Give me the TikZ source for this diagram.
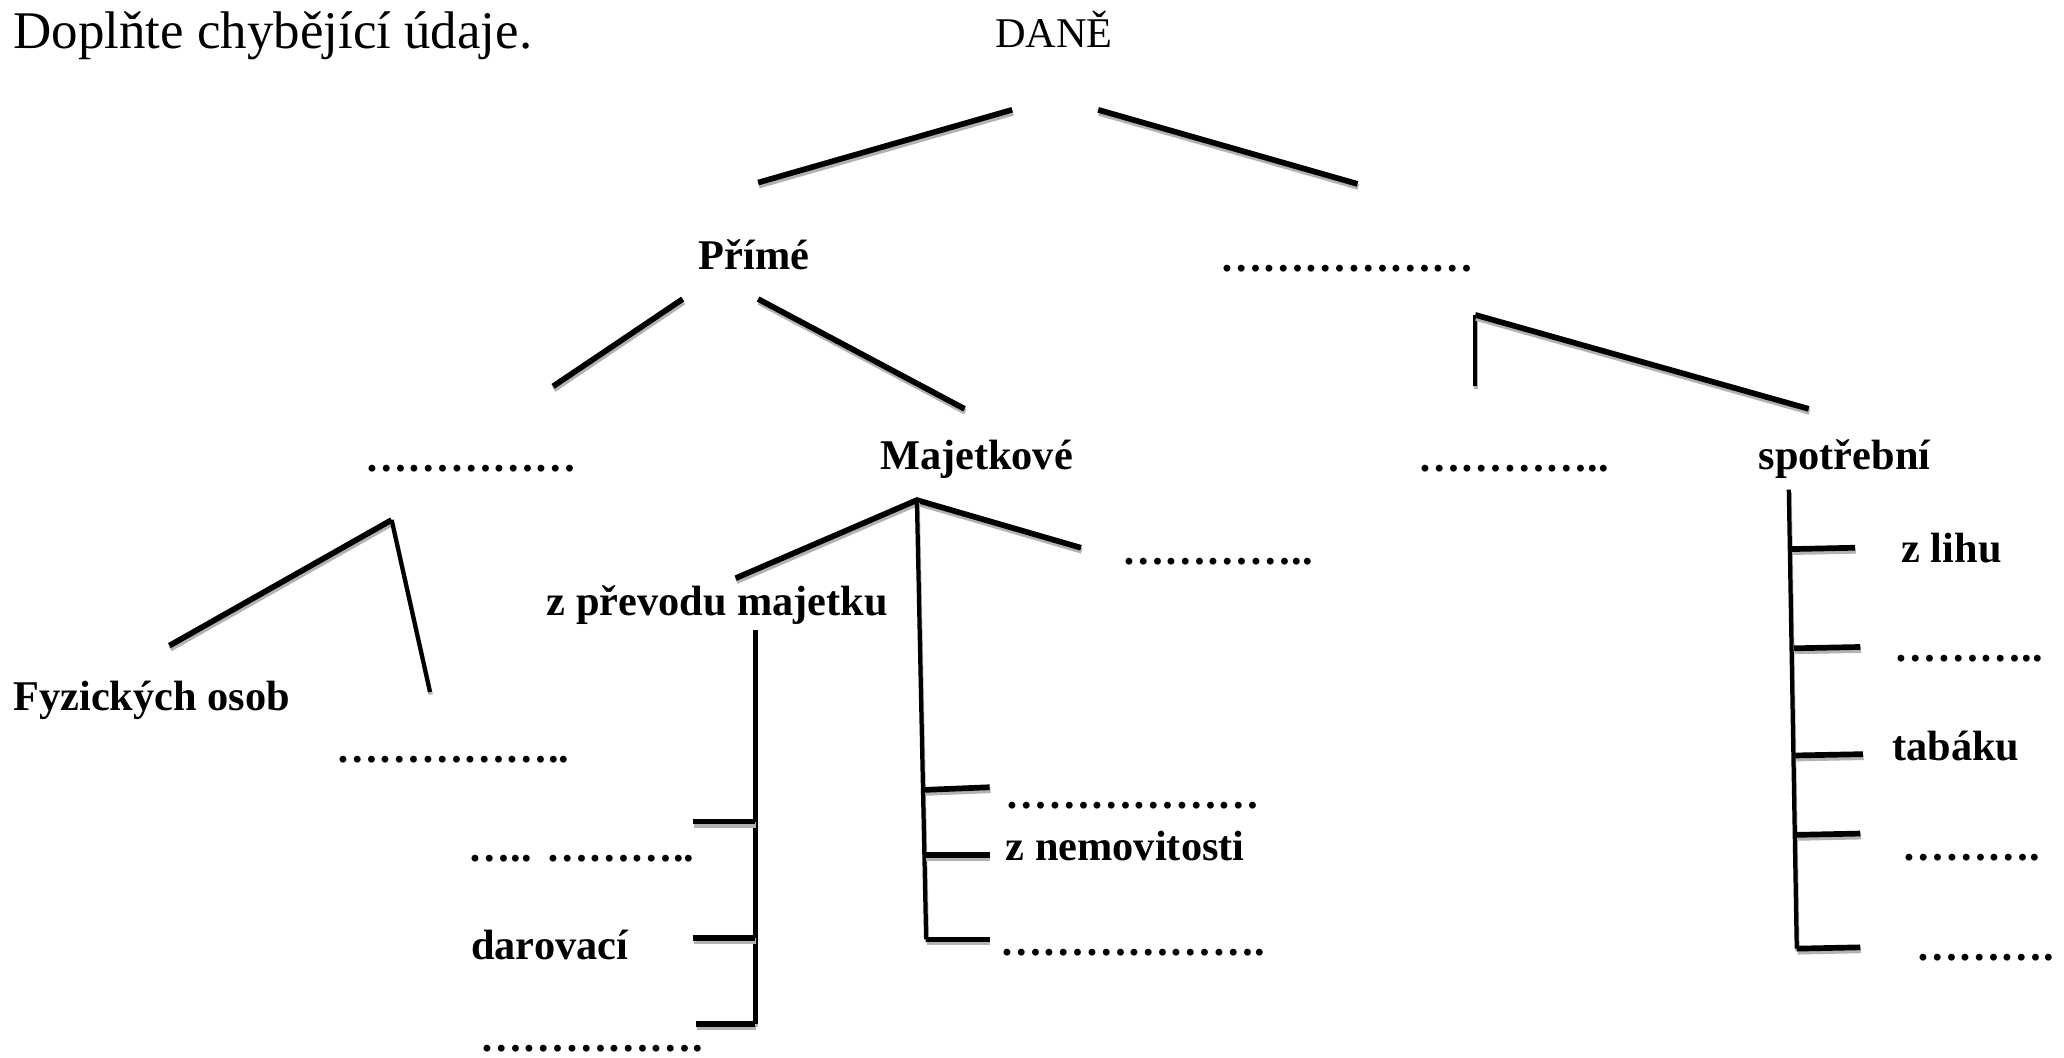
\documentclass[tikz,border=0pt]{standalone}
\usepackage{fontspec}
\setmainfont{Liberation Serif}
\begin{document}
\begin{tikzpicture}[x=1pt,y=-1pt,
  lbl/.style={anchor=base west, inner sep=0pt, font=\fontsize{32}{38}\selectfont\bfseries},
  reg/.style={anchor=base west, inner sep=0pt, font=\fontsize{32}{38}\selectfont},
  ttl/.style={anchor=base west, inner sep=0pt, font=\fontsize{40}{48}\selectfont},
  br/.style={line width=4.3pt, preaction={draw=gray!60, line width=4.3pt, transform canvas={shift={(0.6pt,-2.3pt)}}}},
  brv/.style={line width=3.2pt, preaction={draw=gray!60, line width=3.2pt, transform canvas={shift={(0.6pt,-2pt)}}}}]
\fill[white] (0,0) rectangle (1560,799);
\useasboundingbox (0,0) rectangle (1560,799);

% texts
\node[ttl] (title) at (10,37) {Doplňte chybějící údaje.};
\node[reg] (dane) at (752,36) {DANĚ};
\node[lbl] (prime) at (528,204) {Přímé};
\node[lbl] (neprime) at (922,205) {………………};
\node[lbl] (duchod) at (276,356) {……………};
\node[lbl] (majet) at (665,355) {Majetkové};
\node[lbl] (dph) at (1072,356) {…………..};
\node[lbl] (spotr) at (1329,355) {spotřební};
\node[lbl] (silnicni) at (848,427) {…………..};
\node[lbl] (prevod) at (413,465) {z převodu majetku};
\node[lbl] (fo) at (10,537) {Fyzických osob};
\node[lbl] (po) at (254,576) {……………..};
\node[lbl] (dedicka) at (354,651) {….. ………..};
\node[lbl] (darovaci) at (356,725) {darovací};
\node[lbl, text depth=0pt, text height=5pt] (nabyti) at (363,795) {…………….};
\node[lbl] (nem1) at (760,611) {………………};
\node[lbl] (nem2) at (760,650) {z nemovitosti};
\node[lbl] (nem3) at (756,722) {……………….};
\node[lbl] (s1) at (1437,425) {z lihu};
\node[lbl] (s2) at (1432,500) {………..};
\node[lbl] (s3) at (1430,575) {tabáku};
\node[lbl] (s4) at (1438,650) {……….};
\node[lbl] (s5) at (1448,726) {……….};

% coordinates
\coordinate (d1) at (573,138); \coordinate (d2) at (765,83);
\coordinate (d3) at (830,83);  \coordinate (d4) at (1026,139);
\coordinate (p1) at (418,292); \coordinate (p2) at (516,226);
\coordinate (p3) at (573,226); \coordinate (p4) at (729,309);
\coordinate (n0) at (1115,292); \coordinate (n1) at (1115,238); \coordinate (n2) at (1367,309);
\coordinate (f1) at (128,488); \coordinate (f0) at (296,393); \coordinate (f2) at (325,523);
\coordinate (m1) at (556,437); \coordinate (m0) at (693,378); \coordinate (m2) at (817,414);
\coordinate (mv) at (700,710); \coordinate (mv3) at (748,710);
\coordinate (mt1a) at (699,597); \coordinate (mt1b) at (748,595);
\coordinate (mt2a) at (699,646); \coordinate (mt2b) at (748,646);
\coordinate (pv0) at (571,476); \coordinate (pv1) at (571,774); \coordinate (pv2) at (526,774);
\coordinate (pt1a) at (524,621); \coordinate (pt1b) at (571,621);
\coordinate (pt2a) at (524,709); \coordinate (pt2b) at (571,709);
\coordinate (sv0) at (1352,370); \coordinate (sv1) at (1358,717); \coordinate (sv2) at (1406,716);
\coordinate (st1a) at (1354,415); \coordinate (st1b) at (1402,414);
\coordinate (st2a) at (1356,490); \coordinate (st2b) at (1406,489);
\coordinate (st3a) at (1357,571); \coordinate (st3b) at (1408,570);
\coordinate (st4a) at (1358,631); \coordinate (st4b) at (1406,630);

% connectors
\draw[br] (d1) -- (d2);
\draw[br] (d3) -- (d4);
\draw[br] (p1) -- (p2);
\draw[br] (p3) -- (p4);
\draw[brv] (n0) -- (n1);
\draw[br] (n1) -- (n2);
\draw[br] (f1) -- (f0);
\draw[brv] (f0) -- (f2);
\draw[br] (m1) -- (m0) -- (m2);
\draw[brv] (m0) -- (mv);
\draw[br] (mv) -- (mv3);
\draw[br] (mt1a) -- (mt1b);
\draw[br] (mt2a) -- (mt2b);
\draw[brv] (pv0) -- (pv1);
\draw[br] (pv1) -- (pv2);
\draw[br] (pt1a) -- (pt1b);
\draw[br] (pt2a) -- (pt2b);
\draw[brv] (sv0) -- (sv1);
\draw[br] (sv1) -- (sv2);
\draw[br] (st1a) -- (st1b);
\draw[br] (st2a) -- (st2b);
\draw[br] (st3a) -- (st3b);
\draw[br] (st4a) -- (st4b);
\end{tikzpicture}
\end{document}
